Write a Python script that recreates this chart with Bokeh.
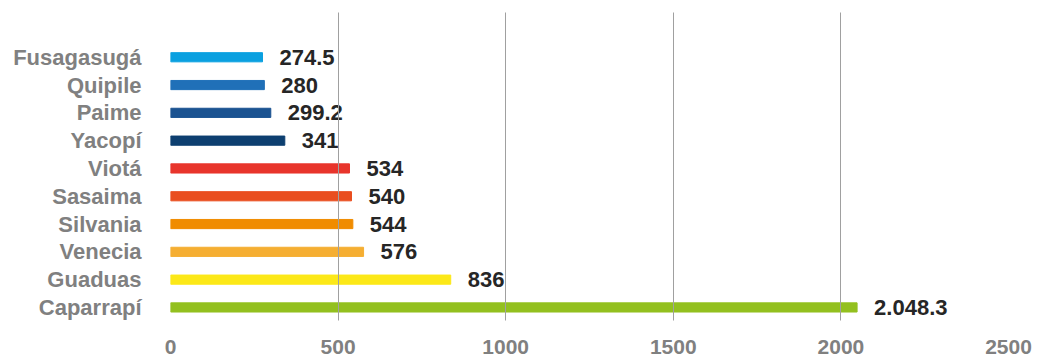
from bokeh.plotting import figure
from bokeh.models import ColumnDataSource, FixedTicker, Range1d
from bokeh.core.properties import value
from bokeh.embed import file_html
from bokeh.resources import INLINE

# data (bottom to top)
municipios = ["Caparrapí", "Guaduas", "Venecia", "Silvania", "Sasaima",
              "Viotá", "Yacopí", "Paime", "Quipile", "Fusagasugá"]
valores = [2048.3, 836, 576, 544, 540, 534, 341, 299.2, 280, 274.5]
etiquetas = ["2.048.3", "836", "576", "544", "540", "534", "341", "299.2", "280", "274.5"]
colores = ["#93c01f", "#fce818", "#f5ae32", "#f08c00", "#e94e1f",
           "#e8352c", "#0d3f70", "#1b5391", "#2070b8", "#0aa0e0"]
x_ticks = [0, 500, 1000, 1500, 2000, 2500]

pos = list(range(len(municipios)))
src = ColumnDataSource(dict(y=pos, v=valores, lab=etiquetas, c=colores))

p = figure(width=1037, height=361, output_backend="svg", toolbar_location=None,
           x_range=Range1d(0, 2500), y_range=Range1d(-0.47, 10.61),
           min_border_left=170, min_border_right=29,
           min_border_top=12, min_border_bottom=41)
p.outline_line_color = None
p.background_fill_color = "white"
p.border_fill_color = "white"

p.hbar(y="y", right="v", left=0, height=0.33, color="c", source=src)
p.text(x="v", y="y", text="lab", source=src, x_offset=17, y_offset=0,
       text_baseline="middle", text_align="left",
       text_font=value("Liberation Sans"), text_font_style="bold",
       text_font_size="22px", text_color="#262626")

# x axis
p.xaxis.ticker = FixedTicker(ticks=x_ticks)
p.xaxis.axis_line_color = None
p.xaxis.major_tick_line_color = None
p.xaxis.minor_tick_line_color = None
p.xaxis.major_label_standoff = 13
p.xaxis.major_label_text_font = "Liberation Sans"
p.xaxis.major_label_text_font_style = "bold"
p.xaxis.major_label_text_font_size = "21px"
p.xaxis.major_label_text_color = "#808080"

# y axis
p.yaxis.ticker = FixedTicker(ticks=pos)
p.yaxis.major_label_overrides = {i: m for i, m in enumerate(municipios)}
p.yaxis.axis_line_color = None
p.yaxis.major_tick_line_color = None
p.yaxis.minor_tick_line_color = None
p.yaxis.major_label_standoff = 23
p.yaxis.major_label_text_font = "Liberation Sans"
p.yaxis.major_label_text_font_style = "bold"
p.yaxis.major_label_text_font_size = "22px"
p.yaxis.major_label_text_color = "#808080"

p.ygrid.grid_line_color = None
p.xgrid.ticker = FixedTicker(ticks=x_ticks)
p.xgrid.grid_line_color = "#a0a0a0"
p.xgrid.grid_line_width = 1
p.xgrid.level = "overlay"

open("out.html", "w").write(file_html(p, INLINE))
